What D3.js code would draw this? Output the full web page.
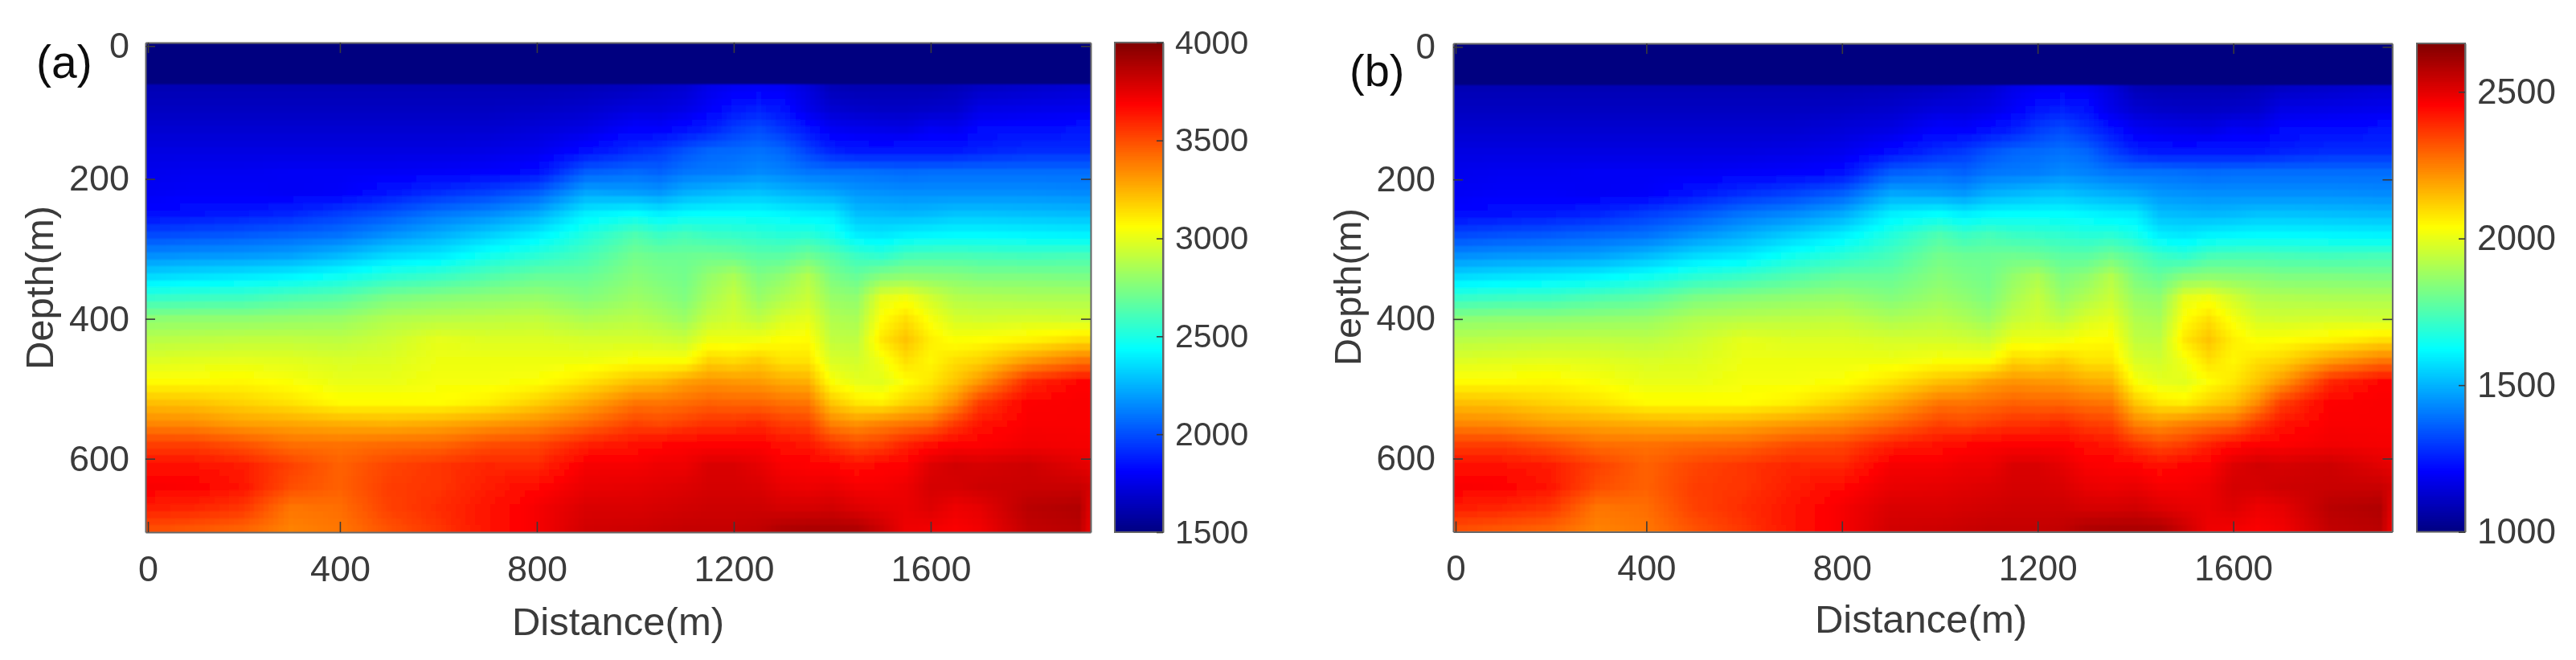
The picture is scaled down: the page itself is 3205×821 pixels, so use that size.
<!DOCTYPE html>
<html><head><meta charset="utf-8">
<script src="https://cdn.jsdelivr.net/npm/d3@7"></script>
<style>
html,body{margin:0;padding:0;background:#fff;overflow:hidden}
text{font-family:"Liberation Sans",Arial,sans-serif;fill:#3a3a3a}
</style></head><body>
<svg id="c" width="3205" height="821"></svg>
<script>
// ---- data -----------------------------------------------------------------
const depths = [70,100,130,160,190,220,250,280,310,340,370,400,430,460,490,520,550,580,610,640,670,700];
const surfaceDepth = 60, surfaceVelocityA = 1500;
const distances = [10,100,200,300,400,500,600,700,800,900,1000,1050,1100,1150,1200,1250,1300,1350,1400,1450,1500,1550,1600,1650,1700,1800,1900,1920];
// velocity (m/s, panel a colour scale) down each sampled column
const v10  =[1630,1660,1700,1740,1770,1790,1830,1990,2160,2350,2560,2780,2890,2980,3070,3220,3360,3540,3650,3700,3620,3500];
const v100 =[1630,1660,1700,1740,1780,1800,1850,2010,2180,2370,2580,2790,2900,2990,3070,3210,3350,3540,3650,3690,3600,3480];
const v200 =[1630,1660,1700,1740,1780,1800,1870,2030,2190,2390,2590,2790,2910,3000,3080,3170,3300,3490,3620,3640,3560,3450];
const v300 =[1630,1660,1700,1740,1790,1790,1900,2060,2210,2420,2630,2800,2910,2990,3050,3130,3280,3420,3530,3500,3400,3370];
const v400 =[1630,1660,1700,1740,1790,1800,1960,2090,2270,2470,2660,2810,2900,2970,3010,3070,3260,3410,3450,3450,3420,3400];
const v500 =[1630,1660,1700,1740,1790,1860,2020,2170,2350,2540,2740,2870,2940,2980,3010,3070,3250,3430,3520,3540,3530,3490];
const v600 =[1630,1660,1700,1740,1800,1920,2100,2240,2390,2580,2770,2890,3000,3020,3040,3065,3270,3440,3560,3560,3580,3560];
const v700 =[1630,1660,1700,1750,1810,1970,2150,2320,2480,2640,2790,2900,2980,3020,3040,3100,3310,3500,3600,3620,3640,3640];
const v800 =[1630,1670,1720,1770,1840,2040,2230,2400,2540,2690,2810,2910,2980,3020,3055,3180,3350,3520,3590,3670,3710,3710];
const v900 =[1640,1690,1750,1840,2040,2220,2400,2520,2610,2690,2760,2860,2960,3020,3130,3280,3430,3610,3710,3740,3780,3800];
const v1000=[1660,1730,1820,1920,2070,2200,2440,2630,2720,2770,2820,2890,2960,3050,3220,3400,3530,3650,3710,3750,3780,3810];
const v1050=[1680,1730,1810,1950,2050,2180,2400,2580,2700,2740,2790,2860,2950,3050,3240,3400,3510,3670,3730,3760,3790,3820];
const v1100=[1700,1750,1850,2010,2100,2240,2430,2610,2700,2720,2750,2820,2930,3050,3300,3420,3540,3690,3730,3770,3800,3830];
const v1150=[1760,1800,1890,2060,2110,2260,2440,2580,2710,2800,2850,2920,3020,3170,3330,3450,3570,3690,3780,3790,3810,3830];
const v1200=[1790,1860,1960,2070,2120,2280,2440,2570,2700,2860,2920,2950,3020,3150,3320,3440,3570,3690,3780,3790,3810,3830];
const v1250=[1800,1890,2000,2090,2150,2290,2440,2550,2660,2750,2810,2900,3030,3190,3310,3440,3590,3690,3750,3780,3810,3840];
const v1300=[1790,1850,1940,2060,2130,2260,2420,2530,2660,2790,2870,2970,3060,3130,3270,3410,3540,3650,3700,3740,3790,3880];
const v1350=[1730,1760,1860,1970,2100,2240,2400,2540,2710,2880,2930,3000,3070,3130,3260,3400,3530,3640,3690,3730,3790,3890];
const v1400=[1640,1700,1790,1890,2090,2220,2390,2490,2650,2740,2810,2870,2910,2970,3050,3200,3370,3560,3680,3740,3800,3890];
const v1450=[1625,1680,1770,1860,2090,2180,2280,2400,2580,2690,2790,2850,2900,2950,3000,3120,3330,3510,3650,3710,3770,3880];
const v1500=[1625,1670,1760,1860,2080,2170,2270,2380,2550,2770,3000,3060,3120,3030,2990,3100,3370,3540,3680,3710,3750,3810];
const v1550=[1625,1670,1750,1870,2070,2160,2260,2410,2610,2790,3030,3140,3210,3140,3060,3170,3400,3610,3690,3730,3740,3730];
const v1600=[1625,1680,1790,1860,2080,2160,2270,2420,2620,2780,2950,3040,3100,3080,3120,3220,3430,3660,3770,3790,3770,3720];
const v1650=[1640,1690,1780,1870,2080,2160,2290,2430,2620,2770,2880,2960,3050,3140,3210,3350,3550,3690,3800,3790,3730,3700];
const v1700=[1670,1750,1830,1890,2080,2160,2290,2430,2610,2750,2870,2950,3060,3170,3320,3540,3640,3690,3790,3810,3750,3720];
const v1800=[1690,1760,1840,1920,2080,2160,2280,2420,2600,2750,2860,2960,3090,3310,3590,3690,3700,3720,3810,3820,3860,3840];
const v1900=[1710,1770,1860,1920,2080,2150,2270,2410,2610,2740,2860,2950,3140,3400,3680,3700,3700,3710,3760,3820,3880,3860];
const v1920=[1710,1770,1860,1920,2080,2150,2270,2410,2610,2740,2860,2950,3140,3400,3680,3700,3700,3710,3750,3800,3780,3760];
const profiles=[v10,v100,v200,v300,v400,v500,v600,v700,v800,v900,v1000,v1050,v1100,v1150,v1200,v1250,v1300,v1350,v1400,v1450,v1500,v1550,v1600,v1650,v1700,v1800,v1900,v1920];

const xTickValues=[10,400,800,1200,1600], xTickLabels=["0","400","800","1200","1600"];
const yTickValues=[10,200,400,600],       yTickLabels=["0","200","400","600"];
const cbarDomainA=[1500,4000], cbarTicksA=[1500,2000,2500,3000,3500,4000];
const cbarDomainB=[1000,2665], cbarTicksB=[1000,1500,2000,2500];
const jetStops=[0,.125,.375,.625,.875,1];
const jetColors=["#000080","#0000ff","#00ffff","#ffff00","#ff0000","#800000"];
const panelLabels=["(a)","(b)"];
const xTitle="Distance(m)", yTitle="Depth(m)";

// ---- layout ---------------------------------------------------------------
const panels=[
 {label:panelLabels[0],lx:45,ly:97,lf:57,
  x:d3.scaleLinear([5,1925],[181,1357]),y:d3.scaleLinear([5,705],[52.9,662]),
  cx:1387,cw:60,cd:cbarDomainA,ct:cbarTicksA,
  xtx:769,xty:790,ytx:66,yty:358,yf:49,tf:45,cf:41,ypad:20},
 {label:panelLabels[1],lx:1679,ly:107,lf:56,
  x:d3.scaleLinear([5,1925],[1808,2976.4]),y:d3.scaleLinear([5,705],[54,661.6]),
  cx:3007,cw:60,cd:cbarDomainB,ct:cbarTicksB,
  xtx:2390,xty:787,ytx:1693,yty:357,yf:47,tf:44,cf:44,ypad:22}
];
const toB=d3.scaleLinear(cbarDomainA,cbarDomainB);
const cellDist=d3.range(10,1921,10), cellDepth=d3.range(10,701,10);

// depth -> velocity per sampled column, then distance -> velocity per cell row
const columnScales=profiles.map(p=>d3.scaleLinear(depths,p).clamp(true));
const cells=[];
cellDepth.forEach(d=>{
  const across=d3.scaleLinear(distances,columnScales.map(s=>s(d))).clamp(true);
  cellDist.forEach(x=>cells.push({x,d,v:d<=surfaceDepth?surfaceVelocityA:across(x)}));
});

const svg=d3.select("#c");
const defs=svg.append("defs");
defs.append("filter").attr("id","soft").attr("x","-2%").attr("y","-2%").attr("width","104%").attr("height","104%")
  .append("feGaussianBlur").attr("stdDeviation",0.9);
defs.append("filter").attr("id","softText").attr("filterUnits","userSpaceOnUse").attr("x",0).attr("y",0).attr("width",3205).attr("height",821)
  .append("feGaussianBlur").attr("stdDeviation",0.55);

panels.forEach((p,i)=>{
  const g=svg.append("g");
  const color=d3.scaleLinear(jetStops.map(t=>p.cd[0]+t*(p.cd[1]-p.cd[0])),jetColors).clamp(true);
  const [x0,x1]=p.x.range(),[y0,y1]=p.y.range();
  const id="clip"+i;
  defs.append("clipPath").attr("id",id).append("rect").attr("x",x0).attr("y",y0).attr("width",x1-x0).attr("height",y1-y0);
  const hm=g.append("g").attr("clip-path",`url(#${id})`).append("g").attr("filter","url(#soft)");
  hm.selectAll("rect").data(cells).join("rect")
    .attr("x",c=>p.x(c.x-5)).attr("y",c=>p.y(c.d-5))
    .attr("width",c=>p.x(c.x+5)-p.x(c.x-5)+.6).attr("height",c=>p.y(c.d+5)-p.y(c.d-5)+.6)
    .attr("shape-rendering","crispEdges")
    .attr("fill",c=>color(i===0?c.v:toB(c.v)));

  // colour bar
  const cy=d3.scaleLinear(p.cd,[y1,y0]);
  const levels=d3.range(0,256).map(k=>p.cd[0]+(k+.5)/256*(p.cd[1]-p.cd[0]));
  const step=(y1-y0)/256;
  g.append("g").selectAll("rect").data(levels).join("rect")
    .attr("x",p.cx).attr("width",p.cw).attr("y",v=>cy(v)-step/2).attr("height",step+.6)
    .attr("shape-rendering","crispEdges").attr("fill",v=>color(v));

  const txt=g.append("g").attr("filter","url(#softText)");
  const style=(a,f)=>{
    a.selectAll("line").attr("stroke","#3a3a3a").attr("stroke-width",1.6);
    a.selectAll("path").attr("stroke","#666").attr("stroke-width",2);
    a.selectAll("text").attr("font-size",f).attr("fill","#3a3a3a").attr("font-family",null);
    a.attr("font-family",null).attr("font-size",null);
  };
  const fmt=(vals,labs)=>v=>labs[vals.indexOf(v)];
  style(txt.append("g").attr("transform",`translate(0,${y1})`).call(d3.axisBottom(p.x).tickValues(xTickValues).tickFormat(fmt(xTickValues,xTickLabels)).tickSizeInner(-13).tickSizeOuter(0).tickPadding(29)),p.tf);
  style(txt.append("g").attr("transform",`translate(0,${y0})`).call(d3.axisTop(p.x).tickValues(xTickValues).tickFormat("").tickSizeInner(-13).tickSizeOuter(0)),p.tf);
  style(txt.append("g").attr("transform",`translate(${x0},0)`).call(d3.axisLeft(p.y).tickValues(yTickValues).tickFormat(fmt(yTickValues,yTickLabels)).tickSizeInner(-12).tickSizeOuter(0).tickPadding(p.ypad)),p.tf);
  style(txt.append("g").attr("transform",`translate(${x1},0)`).call(d3.axisRight(p.y).tickValues(yTickValues).tickFormat("").tickSizeInner(-12).tickSizeOuter(0)),p.tf);

  // colour bar frame and ticks
  txt.append("rect").attr("x",p.cx).attr("y",y0).attr("width",p.cw).attr("height",y1-y0).attr("fill","none").attr("stroke","#666").attr("stroke-width",2);
  style(txt.append("g").attr("transform",`translate(${p.cx+p.cw},0)`).call(d3.axisRight(cy).tickValues(p.ct).tickFormat(d3.format("d")).tickSizeInner(-8).tickSizeOuter(0).tickPadding(15)),p.cf);

  txt.append("text").attr("x",p.xtx).attr("y",p.xty).attr("text-anchor","middle").attr("font-size",49).text(xTitle);
  txt.append("text").attr("transform",`translate(${p.ytx},${p.yty}) rotate(-90)`).attr("text-anchor","middle").attr("font-size",p.yf).text(yTitle);
  txt.append("text").attr("x",p.lx).attr("y",p.ly).attr("font-size",p.lf).attr("fill","#111").style("fill","#111").text(p.label);
});
</script>
</body></html>
